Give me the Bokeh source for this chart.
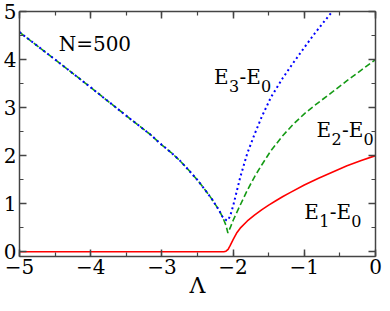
from bokeh.plotting import figure
from bokeh.models import LinearAxis, SingleIntervalTicker, Range1d
from bokeh.core.properties import value
from bokeh.embed import file_html
from bokeh.resources import INLINE

# ---- data ----
lam_e1 = [-5.0, -2.2, -2.13, -2.1, -2.07, -2.04, -2.0, -1.945, -1.9, -1.8, -1.7, -1.6,
          -1.5, -1.4, -1.3, -1.2, -1.0, -0.8, -0.6, -0.4, -0.2, 0.0]
e1 = [0.0, 0.0, 0.0, 0.01, 0.05, 0.13, 0.25, 0.40, 0.49, 0.64, 0.76, 0.87,
      0.97, 1.06, 1.15, 1.23, 1.39, 1.53, 1.66, 1.79, 1.90, 2.00]

lam_e2 = [-5.0, -4.5, -4.0, -3.5, -3.155, -3.0, -2.875, -2.75, -2.625, -2.5, -2.4, -2.3,
          -2.2, -2.15, -2.1, -2.073, -2.04, -2.0, -1.9, -1.8, -1.695, -1.6, -1.47, -1.3,
          -1.15, -1.0, -0.85, -0.6, -0.4, -0.2, 0.0]
e2 = [4.57, 4.00, 3.42, 2.83, 2.43, 2.22, 2.07, 1.90, 1.70, 1.49, 1.30, 1.10,
      0.87, 0.73, 0.55, 0.39, 0.50, 0.65, 0.97, 1.28, 1.57, 1.80, 2.10, 2.42,
      2.66, 2.87, 3.05, 3.33, 3.56, 3.78, 4.00]

lam_e3 = [-5.0, -4.5, -4.0, -3.5, -3.155, -3.0, -2.875, -2.75, -2.625, -2.5, -2.4, -2.3,
          -2.2, -2.15, -2.1, -2.073, -2.04, -2.0, -1.95, -1.9, -1.8, -1.7, -1.6, -1.47,
          -1.3, -1.17, -1.0, -0.85, -0.7, -0.6, -0.5]
e3 = [4.57, 4.00, 3.42, 2.83, 2.43, 2.22, 2.07, 1.90, 1.70, 1.49, 1.30, 1.10,
      0.87, 0.73, 0.66, 0.65, 0.75, 0.95, 1.25, 1.55, 2.05, 2.44, 2.80, 3.21,
      3.62, 3.90, 4.25, 4.55, 4.83, 5.01, 5.18]

X_RANGE = (-5.0, 0.0)
Y_RANGE = (-0.1, 5.0)
x_label = "\u039b"
n_label = "N=500"

FONT = "DejaVu Serif"
AXIS_COLOR = "#444444"

W, H = 382, 303
ML, MR, MT, MB = 17, 7, 11, 47

p = figure(width=W, height=H, x_range=Range1d(*X_RANGE), y_range=Range1d(*Y_RANGE),
           output_backend="svg", toolbar_location=None, x_axis_location=None,
           y_axis_location=None, min_border_left=ML, min_border_right=MR,
           min_border_top=MT, min_border_bottom=MB)
p.outline_line_color = None
p.xgrid.visible = False
p.ygrid.visible = False
p.background_fill_color = "white"
p.border_fill_color = "white"


def make_axis(show_labels):
    ax = LinearAxis(ticker=SingleIntervalTicker(interval=1, num_minor_ticks=2))
    ax.axis_line_color = AXIS_COLOR
    ax.axis_line_width = 1.5
    ax.major_tick_line_color = AXIS_COLOR
    ax.major_tick_line_width = 1.5
    ax.minor_tick_line_color = AXIS_COLOR
    ax.minor_tick_line_width = 1.2
    ax.major_tick_in = 7
    ax.major_tick_out = 0
    ax.minor_tick_in = 4
    ax.minor_tick_out = 0
    if show_labels:
        ax.major_label_text_font = FONT
        ax.major_label_text_font_size = "20px"
        ax.major_label_text_color = "black"
    else:
        ax.major_label_text_font_size = "1px"
        ax.major_label_text_color = None
        ax.major_label_standoff = 0
    return ax


xb = make_axis(True)
xb.major_label_standoff = 2
xb.axis_label = x_label
xb.axis_label_text_font = FONT
xb.axis_label_text_font_style = "normal"
xb.axis_label_text_font_size = "22px"
xb.axis_label_text_color = "black"
xb.axis_label_standoff = -4
p.add_layout(xb, "below")
yl = make_axis(True)
yl.major_label_standoff = 3
p.add_layout(yl, "left")
p.add_layout(make_axis(False), "above")
p.add_layout(make_axis(False), "right")

# curves
p.line(lam_e1, e1, line_color="#ff0000", line_width=1.6)
p.line(lam_e2, e2, line_color="#149a14", line_width=1.6, line_dash="6 3")
p.line(lam_e3, e3, line_color="#0000ff", line_width=2.0, line_dash="2 3")


# text labels
def txt(x, y, s, size, dx=0, dy=0):
    p.text([x], [y], text=[s], x_offset=dx, y_offset=dy,
           text_font=value(FONT), text_font_size=size, text_color="black",
           text_align="left", text_baseline="alphabetic")


def energy_label(x, y, k):
    txt(x, y, "E", "20px")
    txt(x, y, str(k), "16px", dx=15, dy=9)
    txt(x, y, "-E", "20px", dx=25.5)
    txt(x, y, "0", "16px", dx=47, dy=9)


txt(-4.45, 4.33, n_label, "20px")
energy_label(-2.27, 3.634, 3)
energy_label(-0.83, 2.534, 2)
energy_label(-1.0, 0.834, 1)

open("out.html", "w").write(file_html(p, INLINE))
